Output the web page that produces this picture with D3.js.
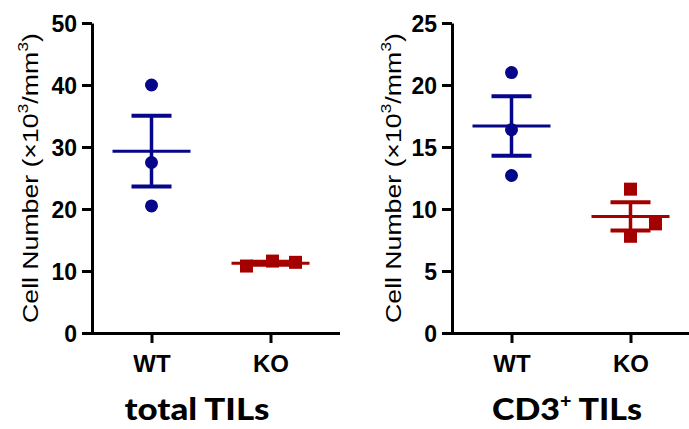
<!DOCTYPE html>
<html>
<head>
<meta charset="utf-8">
<script src="https://cdn.jsdelivr.net/npm/d3@7"></script>
<style>
  body { margin: 0; background: #fff; }
  svg { display: block; }
  .tick text { font-family: "Liberation Sans", Arial, sans-serif; font-weight: bold; }
</style>
</head>
<body>
<div id="chart"></div>
<script>
// Groups shown on the x axis
const groups = ["WT", "KO"];

// Panel 1: total TILs (x10^3/mm^3)
const totalWT = [40.0, 27.5, 20.5];
const totalKO = [10.8, 11.6, 11.4];
const totalTicks = [0, 10, 20, 30, 40, 50];

// Panel 2: CD3+ TILs (x10^3/mm^3)
const cd3WT = [21.0, 16.4, 12.7];
const cd3KO = [11.6, 8.8, 7.8];
const cd3Ticks = [0, 5, 10, 15, 20, 25];

const blue = "#06068a";
const red = "#a50000";

class DotPlot {
  constructor(_config, _data) {
    this.config = {
      svg: _config.svg,
      left: _config.left,
      title: _config.title,
      ticks: _config.ticks,
      jitter: _config.jitter,
      labelX: _config.labelX,
      titleX: _config.titleX,
      titleWidth: _config.titleWidth,
      top: 23,
      bottom: 333,
      width: 238,
    };
    this.data = _data;
    this.initVis();
  }

  initVis() {
    let vis = this;
    const c = vis.config;

    vis.g = c.svg.append("g").attr("transform", `translate(${c.left},0)`);

    vis.yScale = d3.scaleLinear()
      .domain([0, d3.max(c.ticks)])
      .range([c.bottom, c.top]);

    vis.xScale = d3.scalePoint()
      .domain(groups)
      .range([0, c.width])
      .padding(0.5);

    vis.yAxis = d3.axisLeft(vis.yScale)
      .tickValues(c.ticks)
      .tickSize(10)
      .tickSizeOuter(0)
      .tickPadding(5);

    vis.xAxis = d3.axisBottom(vis.xScale)
      .tickSize(10)
      .tickSizeOuter(0)
      .tickPadding(12);

    vis.renderVis();
  }

  renderVis() {
    let vis = this;
    const c = vis.config;

    // axes
    const yg = vis.g.append("g").call(vis.yAxis);
    yg.selectAll("text").style("font-size", "23px").attr("dy", "0.36em");
    const xg = vis.g.append("g")
      .attr("transform", `translate(0,${c.bottom})`)
      .call(vis.xAxis);
    xg.selectAll("text").style("font-size", "24px").attr("dy", "0.71em");

    vis.g.selectAll(".domain, .tick line")
      .attr("stroke", "#000")
      .attr("stroke-width", 3);
    xg.select(".domain").attr("d", `M-1.5,0.5H${c.width + 10}`);

    // y axis label, stretched along its length to match
    const lab = c.svg.append("text")
      .attr("font-family", "Liberation Sans, Arial, sans-serif")
      .attr("font-size", 22.5)
      .attr("fill", "#000");
    lab.append("tspan").text("Cell Number (\u00d710");
    lab.append("tspan").attr("dy", -10).attr("font-size", 15).text("3");
    lab.append("tspan").attr("dy", 10).text("/mm");
    lab.append("tspan").attr("dy", -10).attr("font-size", 15).text("3");
    lab.append("tspan").attr("dy", 10).text(")");
    const lw = lab.node().getBBox().width;
    const sx = 290 / lw;
    lab.attr("text-anchor", "middle")
      .attr("transform", `translate(${c.labelX},${(c.top + c.bottom) / 2}) rotate(-90) scale(${sx},1)`);

    // title
    const t = c.svg.append("text")
      .attr("font-family", "Lato, 'Open Sans', sans-serif")
      .attr("font-weight", 900)
      .attr("font-size", 31)
      .attr("fill", "#000");
    c.title(t);
    const tw = t.node().getBBox().width;
    t.attr("text-anchor", "middle")
      .attr("transform", `translate(${c.titleX},420) scale(${c.titleWidth / tw},1)`);

    // points, mean and SEM
    vis.data.forEach((d, gi) => {
      const cx = vis.xScale(d.group);
      const mean = d3.mean(d.values);
      const sem = d3.deviation(d.values) / Math.sqrt(d.values.length);
      const color = d.color;
      const jit = c.jitter[gi];

      if (d.shape === "circle") {
        vis.g.selectAll(null)
          .data(d.values)
          .join("circle")
          .attr("cx", (v, i) => cx + jit[i])
          .attr("cy", v => vis.yScale(v))
          .attr("r", 6.5)
          .attr("fill", color);
      } else {
        vis.g.selectAll(null)
          .data(d.values)
          .join("rect")
          .attr("x", (v, i) => cx + jit[i] - 6.5)
          .attr("y", v => vis.yScale(v) - 6.5)
          .attr("width", 13)
          .attr("height", 13)
          .attr("fill", color);
      }

      const eb = vis.g.append("g").attr("stroke", color);
      eb.append("line")
        .attr("x1", cx).attr("x2", cx)
        .attr("y1", vis.yScale(mean - sem)).attr("y2", vis.yScale(mean + sem))
        .attr("stroke-width", 3.5);
      eb.selectAll(null)
        .data([mean - sem, mean + sem])
        .join("line")
        .attr("x1", cx - 20).attr("x2", cx + 20)
        .attr("y1", v => vis.yScale(v)).attr("y2", v => vis.yScale(v))
        .attr("stroke-width", 4);
      eb.append("line")
        .attr("x1", cx - 39).attr("x2", cx + 39)
        .attr("y1", vis.yScale(mean)).attr("y2", vis.yScale(mean))
        .attr("stroke-width", 3);
    });
  }
}

const svg = d3.select("#chart").append("svg")
  .attr("width", 689)
  .attr("height", 429);

new DotPlot({
  svg: svg,
  left: 92,
  ticks: totalTicks,
  jitter: [[0, 0, 0], [-24, 2, 25]],
  labelX: 38,
  titleX: 197,
  titleWidth: 145,
  title: t => t.text("total TILs"),
}, [
  { group: groups[0], values: totalWT, shape: "circle", color: blue },
  { group: groups[1], values: totalKO, shape: "square", color: red },
]);

new DotPlot({
  svg: svg,
  left: 452,
  ticks: cd3Ticks,
  jitter: [[0, 0, 0], [0, 25, 0]],
  labelX: 401,
  titleX: 567,
  titleWidth: 150,
  title: t => {
    t.append("tspan").text("CD3");
    t.append("tspan").attr("dy", -12).attr("font-size", 18).text("+");
    t.append("tspan").attr("dy", 12).text(" TILs");
  },
}, [
  { group: groups[0], values: cd3WT, shape: "circle", color: blue },
  { group: groups[1], values: cd3KO, shape: "square", color: red },
]);
</script>
</body>
</html>
